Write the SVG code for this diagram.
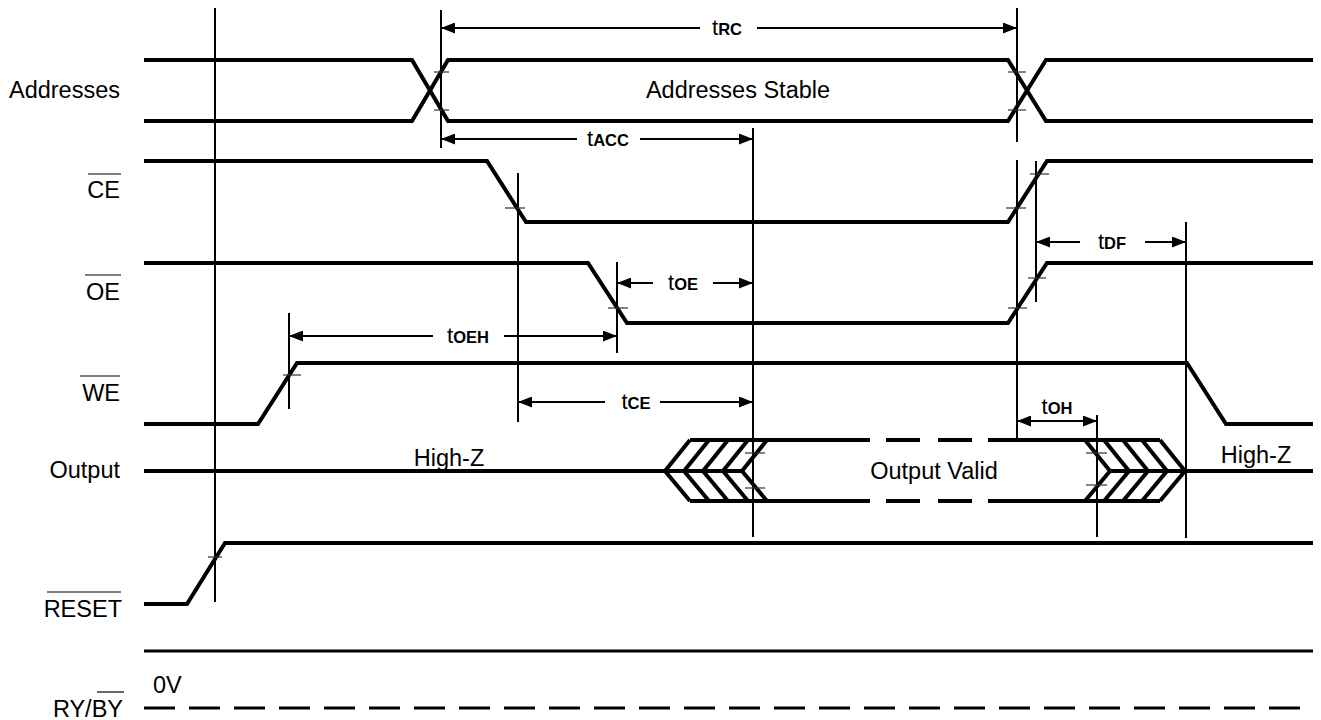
<svg xmlns="http://www.w3.org/2000/svg" width="1321" height="720" viewBox="0 0 1321 720">
<style>
.sig{fill:none;stroke:#000;stroke-width:4;stroke-linejoin:miter}
.vl{stroke:#000;stroke-width:2}
.tk{stroke:#333;stroke-width:1.2}
.ar{stroke:#000;stroke-width:2;marker-end:url(#ah)}
.ol{stroke:#000;stroke-width:1.2}
.lb{font-family:"Liberation Sans",Arial,sans-serif;font-size:23.5px;fill:#000}
.r{text-anchor:end}
.m{text-anchor:middle}
.tl{font-family:"Liberation Sans",Arial,sans-serif;font-size:22px;fill:#000;text-anchor:middle}
.sub{font-size:16.5px;font-weight:bold}
</style>
<defs>
<marker id="ah" markerUnits="userSpaceOnUse" markerWidth="14" markerHeight="11" refX="14" refY="5.5" orient="auto">
<path d="M0,0 L14,5.5 L0,11 z" fill="#000"/>
</marker>
</defs>
<rect width="1321" height="720" fill="#fff"/>

<g id="labels">
<text class="lb r" x="120" y="98">Addresses</text>
<text class="lb r" x="120" y="198">CE</text>
<line class="ol" x1="88" y1="174" x2="121" y2="174"/>
<text class="lb r" x="120" y="300">OE</text>
<line class="ol" x1="85" y1="275" x2="121" y2="275"/>
<text class="lb r" x="120" y="401">WE</text>
<line class="ol" x1="80" y1="376" x2="120" y2="376"/>
<text class="lb r" x="120" y="478">Output</text>
<text class="lb r" x="122" y="617">RESET</text>
<line class="ol" x1="47" y1="592" x2="121" y2="592"/>
<text class="lb r" x="123" y="717">RY/BY</text>
<line class="ol" x1="97" y1="692" x2="124" y2="692"/>
<text class="lb" x="153" y="693">0V</text>
</g>

<g id="addresses">
<polyline class="sig" points="144,60 412,60 448,121 1008,121 1046,60 1313,60"/>
<polyline class="sig" points="144,121 412,121 448,60 1008,60 1046,121 1313,121"/>
<text class="lb m" x="738" y="98">Addresses Stable</text>
</g>

<g id="ce">
<polyline class="sig" points="144,161 487,161 526,222 1008,222 1047,161 1313,161"/>
</g>

<g id="oe">
<polyline class="sig" points="144,263 588,263 627,323 1008,323 1047,263 1313,263"/>
</g>

<g id="we">
<polyline class="sig" points="144,424 258,424 297,363 1187,363 1226,424 1313,424"/>
</g>

<g id="output">
<line class="sig" x1="144" y1="471" x2="742" y2="471"/>
<polyline class="sig" points="690,440 665,471 690,501"/>
<polyline class="sig" points="709,440 684,471 709,501"/>
<polyline class="sig" points="728,440 703,471 728,501"/>
<polyline class="sig" points="748,440 723,471 748,501"/>
<polyline class="sig" points="767,440 742,471 767,501"/>
<line class="sig" x1="690" y1="440" x2="870" y2="440"/>
<line class="sig" x1="886" y1="440" x2="920" y2="440"/>
<line class="sig" x1="938" y1="440" x2="972" y2="440"/>
<line class="sig" x1="988" y1="440" x2="1160" y2="440"/>
<line class="sig" x1="690" y1="501" x2="870" y2="501"/>
<line class="sig" x1="886" y1="501" x2="920" y2="501"/>
<line class="sig" x1="938" y1="501" x2="972" y2="501"/>
<line class="sig" x1="988" y1="501" x2="1160" y2="501"/>
<polyline class="sig" points="1085,440 1110,471 1085,501"/>
<polyline class="sig" points="1104,440 1129,471 1104,501"/>
<polyline class="sig" points="1123,440 1148,471 1123,501"/>
<polyline class="sig" points="1142,440 1167,471 1142,501"/>
<polyline class="sig" points="1160,440 1185,471 1160,501"/>
<line class="sig" x1="1110" y1="471" x2="1313" y2="471"/>
<text class="lb m" x="449" y="466">High-Z</text>
<text class="lb m" x="934" y="479">Output Valid</text>
<text class="lb m" x="1256" y="463">High-Z</text>
</g>

<g id="reset">
<polyline class="sig" points="144,604 187,604 225,543 1313,543"/>
</g>

<g id="rails">
<line x1="144" y1="651" x2="1313" y2="651" stroke="#000" stroke-width="3"/>
<line x1="144" y1="708" x2="1313" y2="708" stroke="#000" stroke-width="3" stroke-dasharray="31 14"/>
</g>

<g id="connectors">
<line class="vl" x1="215" y1="8" x2="215" y2="602"/>
<line class="vl" x1="441" y1="10" x2="441" y2="148"/>
<line class="vl" x1="1017" y1="8" x2="1017" y2="142"/>
<line class="vl" x1="1017" y1="160" x2="1017" y2="440"/>
<line class="vl" x1="753" y1="128" x2="753" y2="537"/>
<line class="vl" x1="518" y1="173" x2="518" y2="422"/>
<line class="vl" x1="617" y1="262" x2="617" y2="353"/>
<line class="vl" x1="1036" y1="161" x2="1036" y2="302"/>
<line class="vl" x1="1186" y1="222" x2="1186" y2="538"/>
<line class="vl" x1="289" y1="313" x2="289" y2="409"/>
<line class="vl" x1="1097" y1="415" x2="1097" y2="537"/>

<line class="tk" x1="434" y1="72" x2="449" y2="72"/>
<line class="tk" x1="434" y1="110" x2="449" y2="110"/>
<line class="tk" x1="1008" y1="72" x2="1026" y2="72"/>
<line class="tk" x1="1008" y1="110" x2="1026" y2="110"/>
<line class="tk" x1="505" y1="208" x2="525" y2="208"/>
<line class="tk" x1="1006" y1="208" x2="1026" y2="208"/>
<line class="tk" x1="1030" y1="174" x2="1049" y2="174"/>
<line class="tk" x1="608" y1="308" x2="628" y2="308"/>
<line class="tk" x1="1008" y1="308" x2="1027" y2="308"/>
<line class="tk" x1="1028" y1="278" x2="1046" y2="278"/>
<line class="tk" x1="283" y1="375" x2="301" y2="375"/>
<line class="tk" x1="745" y1="453" x2="765" y2="453"/>
<line class="tk" x1="745" y1="488" x2="765" y2="488"/>
<line class="tk" x1="1086" y1="453" x2="1107" y2="453"/>
<line class="tk" x1="1086" y1="485" x2="1107" y2="485"/>
<line class="tk" x1="208" y1="557" x2="222" y2="557"/>

<line class="ar" x1="700" y1="28" x2="441" y2="28"/>
<line class="ar" x1="757" y1="28" x2="1017" y2="28"/>
<text class="tl" x="727" y="35">t<tspan class="sub">RC</tspan></text>

<line class="ar" x1="577" y1="139" x2="441" y2="139"/>
<line class="ar" x1="640" y1="139" x2="753" y2="139"/>
<text class="tl" x="608" y="146">t<tspan class="sub">ACC</tspan></text>

<line class="ar" x1="653" y1="283" x2="617" y2="283"/>
<line class="ar" x1="713" y1="283" x2="753" y2="283"/>
<text class="tl" x="683" y="290">t<tspan class="sub">OE</tspan></text>

<line class="ar" x1="433" y1="336" x2="289" y2="336"/>
<line class="ar" x1="504" y1="336" x2="617" y2="336"/>
<text class="tl" x="468" y="343">t<tspan class="sub">OEH</tspan></text>

<line class="ar" x1="605" y1="402" x2="518" y2="402"/>
<line class="ar" x1="660" y1="402" x2="753" y2="402"/>
<text class="tl" x="636" y="409">t<tspan class="sub">CE</tspan></text>

<line class="ar" x1="1080" y1="242" x2="1036" y2="242"/>
<line class="ar" x1="1145" y1="242" x2="1186" y2="242"/>
<text class="tl" x="1112" y="249">t<tspan class="sub">DF</tspan></text>

<line class="ar" x1="1057" y1="421" x2="1017" y2="421"/>
<line class="ar" x1="1057" y1="421" x2="1097" y2="421"/>
<text class="tl" x="1057" y="414">t<tspan class="sub">OH</tspan></text>
</g>
</svg>
